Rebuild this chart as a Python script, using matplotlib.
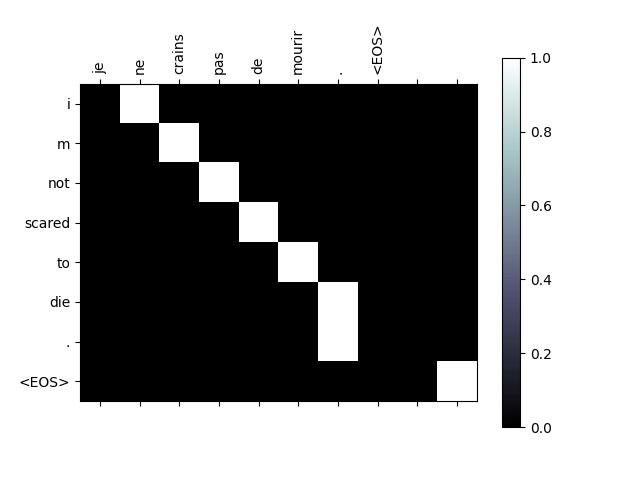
import matplotlib
matplotlib.use("Agg")
import matplotlib.pyplot as plt
import numpy as np

input_words = ["je", "ne", "crains", "pas", "de", "mourir", ".", "<EOS>", "", ""]
output_words = ["i", "m", "not", "scared", "to", "die", ".", "<EOS>"]
attentions = [
    [0, 1, 0, 0, 0, 0, 0, 0, 0, 0],
    [0, 0, 1, 0, 0, 0, 0, 0, 0, 0],
    [0, 0, 0, 1, 0, 0, 0, 0, 0, 0],
    [0, 0, 0, 0, 1, 0, 0, 0, 0, 0],
    [0, 0, 0, 0, 0, 1, 0, 0, 0, 0],
    [0, 0, 0, 0, 0, 0, 1, 0, 0, 0],
    [0, 0, 0, 0, 0, 0, 1, 0, 0, 0],
    [0, 0, 0, 0, 0, 0, 0, 0, 0, 1],
]

fig = plt.figure(figsize=(6.4, 4.8), dpi=100)
ax = fig.add_subplot(111)
cax = ax.matshow(np.array(attentions, dtype=float), cmap="bone", vmin=0, vmax=1)
fig.colorbar(cax)

ax.set_xticks(range(len(input_words)))
ax.set_xticklabels(input_words, rotation=90)
ax.set_yticks(range(len(output_words)))
ax.set_yticklabels(output_words)

fig.savefig("out.png", dpi=100)
